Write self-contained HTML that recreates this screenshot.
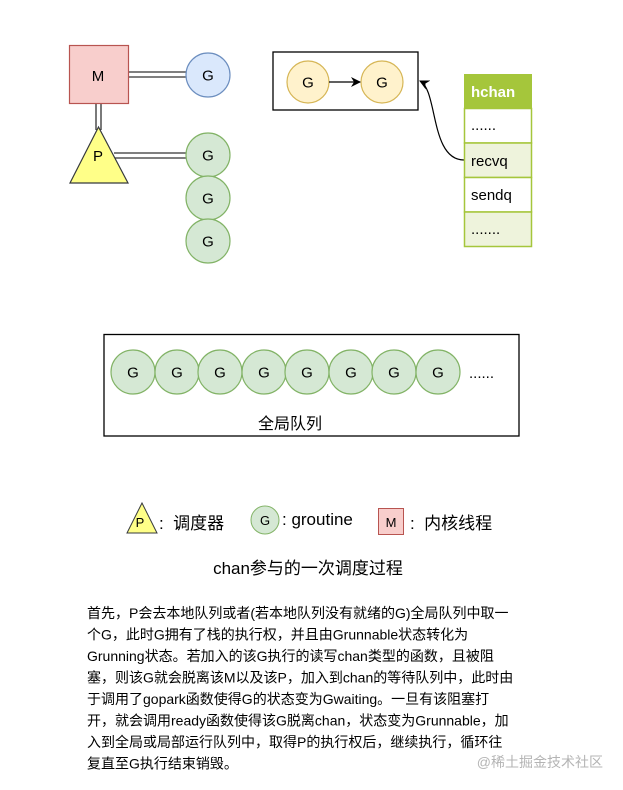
<!DOCTYPE html>
<html><head><meta charset="utf-8"><style>
html,body{margin:0;padding:0;background:#fff;}
svg{display:block;}
text{font-family:"Liberation Sans","Noto Sans CJK SC",sans-serif;fill:#000;}
.p{font-size:14px;}
</style></head><body>
<svg width="623" height="790" viewBox="0 0 623 790" xmlns="http://www.w3.org/2000/svg">
<defs>
<marker id="ah" markerWidth="10" markerHeight="10" refX="9" refY="5" orient="auto" markerUnits="userSpaceOnUse">
<path d="M0,0 L10,5 L0,10 L3,5 Z" fill="#000"/></marker>
</defs>
<g stroke="#333" stroke-width="1.3">
<line x1="129" y1="72" x2="186" y2="72"/><line x1="129" y1="77" x2="186" y2="77"/>
<line x1="96" y1="103" x2="96" y2="130"/><line x1="101" y1="103" x2="101" y2="130"/>
<line x1="114" y1="153" x2="186" y2="153"/><line x1="114" y1="158" x2="186" y2="158"/>
</g>
<rect x="69.5" y="45.5" width="59" height="58" fill="#f8cecc" stroke="#b85450" stroke-width="1.2"/>
<text x="98" y="81" font-size="15" text-anchor="middle">M</text>
<circle cx="208" cy="75" r="22" fill="#dae8fc" stroke="#6c8ebf" stroke-width="1.2"/>
<text x="208" y="80.5" font-size="15" text-anchor="middle">G</text>
<polygon points="98.5,127 70,183 128,183" fill="#ffff88" stroke="#36393d" stroke-width="1.2"/>
<text x="98" y="161" font-size="15" text-anchor="middle">P</text>
<g fill="#d5e8d4" stroke="#82b366" stroke-width="1.2">
<circle cx="208" cy="155" r="22"/><circle cx="208" cy="198" r="22"/><circle cx="208" cy="241" r="22"/>
</g>
<g font-size="15" text-anchor="middle">
<text x="208" y="160.5">G</text><text x="208" y="203.5">G</text><text x="208" y="246.5">G</text>
</g>
<rect x="273" y="52" width="145" height="58" fill="#fff" stroke="#000" stroke-width="1.3"/>
<circle cx="308" cy="82" r="21" fill="#fff2cc" stroke="#d6b656" stroke-width="1.2"/>
<circle cx="382" cy="82" r="21" fill="#fff2cc" stroke="#d6b656" stroke-width="1.2"/>
<text x="308" y="87.5" font-size="15" text-anchor="middle">G</text>
<text x="382" y="87.5" font-size="15" text-anchor="middle">G</text>
<line x1="329" y1="82" x2="360" y2="82" stroke="#000" stroke-width="1.2" marker-end="url(#ah)"/>
<path d="M464,160 C430,160 438,90 420,81" fill="none" stroke="#000" stroke-width="1.2" marker-end="url(#ah)"/>
<rect x="464" y="74" width="68" height="34" fill="#a5c63b"/>
<text x="471" y="97" font-size="15" font-weight="bold" style="fill:#fff">hchan</text>
<rect x="464.5" y="108.5" width="67" height="34.5" fill="#fff" stroke="#a5c63b" stroke-width="1.5"/>
<rect x="464.5" y="143" width="67" height="34.5" fill="#eef3dc" stroke="#a5c63b" stroke-width="1.5"/>
<rect x="464.5" y="177.5" width="67" height="34.5" fill="#fff" stroke="#a5c63b" stroke-width="1.5"/>
<rect x="464.5" y="212" width="67" height="34.5" fill="#eef3dc" stroke="#a5c63b" stroke-width="1.5"/>
<g font-size="15">
<text x="471" y="130">......</text><text x="471" y="166">recvq</text>
<text x="471" y="200">sendq</text><text x="471" y="234">.......</text>
</g>
<rect x="104" y="334.5" width="415" height="101.5" fill="#fff" stroke="#000" stroke-width="1.3"/>
<g fill="#d5e8d4" stroke="#82b366" stroke-width="1.2">
<circle cx="133" cy="372" r="22"/><circle cx="177" cy="372" r="22"/><circle cx="220" cy="372" r="22"/><circle cx="264" cy="372" r="22"/>
<circle cx="307" cy="372" r="22"/><circle cx="351" cy="372" r="22"/><circle cx="394" cy="372" r="22"/><circle cx="438" cy="372" r="22"/>
</g>
<g font-size="15" text-anchor="middle">
<text x="133" y="377.5">G</text><text x="177" y="377.5">G</text><text x="220" y="377.5">G</text><text x="264" y="377.5">G</text>
<text x="307" y="377.5">G</text><text x="351" y="377.5">G</text><text x="394" y="377.5">G</text><text x="438" y="377.5">G</text>
</g>
<text x="469" y="378" font-size="15">......</text>
<text x="290" y="429" font-size="16" text-anchor="middle">全局队列</text>
<polygon points="142,503 127,533 157,533" fill="#ffff88" stroke="#36393d" stroke-width="1"/>
<text x="140" y="527" font-size="13" text-anchor="middle">P</text>
<text x="159" y="529" font-size="17" xml:space="preserve">:  调度器</text>
<circle cx="265" cy="520" r="14" fill="#d5e8d4" stroke="#82b366" stroke-width="1"/>
<text x="265" y="525" font-size="13" text-anchor="middle">G</text>
<text x="282" y="525" font-size="17">: groutine</text>
<rect x="378.5" y="508.5" width="25" height="26" fill="#f8cecc" stroke="#b85450" stroke-width="1"/>
<text x="391" y="527" font-size="13" text-anchor="middle">M</text>
<text x="410" y="529" font-size="17" xml:space="preserve">:  内核线程</text>
<text x="308" y="574" font-size="17" text-anchor="middle">chan参与的一次调度过程</text>
<g class="p">
<text x="87" y="618">首先，P会去本地队列或者(若本地队列没有就绪的G)全局队列中取一</text>
<text x="87" y="639.5">个G，此时G拥有了栈的执行权，并且由Grunnable状态转化为</text>
<text x="87" y="661">Grunning状态。若加入的该G执行的读写chan类型的函数，且被阻</text>
<text x="87" y="682.5">塞，则该G就会脱离该M以及该P，加入到chan的等待队列中，此时由</text>
<text x="87" y="704">于调用了gopark函数使得G的状态变为Gwaiting。一旦有该阻塞打</text>
<text x="87" y="725.5">开，就会调用ready函数使得该G脱离chan，状态变为Grunnable，加</text>
<text x="87" y="747">入到全局或局部运行队列中，取得P的执行权后，继续执行，循环往</text>
<text x="87" y="768.5">复直至G执行结束销毁。</text>
</g>
<text x="603" y="767" font-size="14" text-anchor="end" style="fill:#b4b4b4">@稀土掘金技术社区</text>
</svg>
</body></html>
